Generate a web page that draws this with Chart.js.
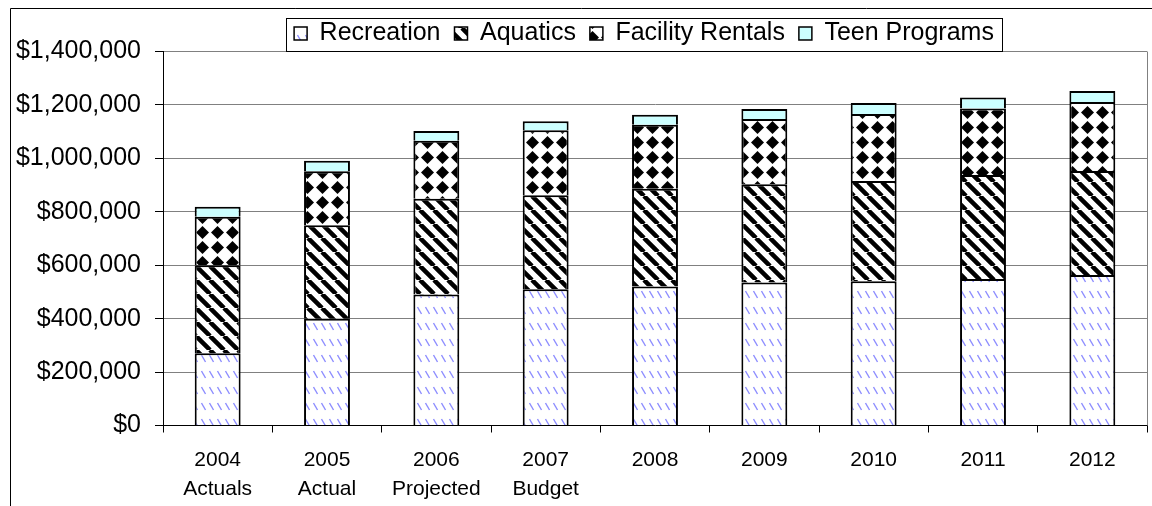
<!DOCTYPE html>
<html>
<head>
<meta charset="utf-8">
<script src="https://cdn.jsdelivr.net/npm/chart.js@4"></script>
<style>
  html, body { margin: 0; padding: 0; background: #fff; }
  #wrap { width: 1152px; height: 506px; }
</style>
</head>
<body>
<div id="wrap"><canvas id="chart" width="1152" height="506"></canvas></div>
<script>
const years = [
  ["2004", "Actuals"], ["2005", "Actual"], ["2006", "Projected"], ["2007", "Budget"],
  "2008", "2009", "2010", "2011", "2012"
];
const recreation = [270000, 400000, 490000, 510000, 520000, 535000, 540000, 548000, 563000];
const aquatics = [330000, 350000, 359000, 352000, 366000, 368000, 375000, 390000, 390000];
const facilityRentals = [181000, 202000, 217000, 243000, 240000, 244000, 251000, 249000, 258000];
const teenPrograms = [38000, 39000, 36000, 34000, 37000, 38000, 41000, 41000, 41000];

const yMax = 1400000;
const yStep = 200000;

function makePattern(w, h, draw) {
  const c = document.createElement("canvas");
  c.width = w; c.height = h;
  const g = c.getContext("2d");
  g.fillStyle = "#fff";
  g.fillRect(0, 0, w, h);
  draw(g, w, h);
  return g.createPattern(c, "repeat");
}

// light blue dashes
const recPattern = makePattern(8, 16, (g) => {
  g.strokeStyle = "#8c8cff";
  g.lineWidth = 1.4;
  g.beginPath();
  g.moveTo(1.5, 3);
  g.lineTo(5.5, 10);
  g.stroke();
});

// thick black "\" stripes
const aquaPattern = makePattern(14, 14, (g, w, h) => {
  g.strokeStyle = "#000";
  g.lineWidth = 4.5;
  g.beginPath();
  [-w, 0, w].forEach(off => {
    g.moveTo(off, 0);
    g.lineTo(off + w, h);
  });
  g.stroke();
});

// black diamonds
const facPattern = makePattern(15, 15, (g) => {
  g.fillStyle = "#000";
  g.beginPath();
  g.moveTo(7.5, 1);
  g.lineTo(14, 7.5);
  g.lineTo(7.5, 14);
  g.lineTo(1, 7.5);
  g.closePath();
  g.fill();
});

const frame = {
  id: "frame",
  afterLayout(chart) {
    // shift legend a little left like the original
    const lg = chart.legend;
    lg.left -= 11;
    lg.right -= 11;
  },
  beforeDatasetsDraw(chart) {
    const { ctx, chartArea: a } = chart;
    ctx.save();
    ctx.strokeStyle = "#808080";
    ctx.lineWidth = 1;
    ctx.beginPath();
    ctx.moveTo(Math.round(a.right) + 0.5, a.top);
    ctx.lineTo(Math.round(a.right) + 0.5, a.bottom);
    ctx.stroke();
    ctx.restore();
  },
  afterDraw(chart) {
    const { ctx, chartArea: a } = chart;
    ctx.save();
    ctx.strokeStyle = "#000";
    ctx.lineWidth = 1;
    // outer chart border (left and top)
    ctx.beginPath();
    ctx.moveTo(10.5, 506);
    ctx.lineTo(10.5, 8.5);
    ctx.lineTo(1152, 8.5);
    ctx.stroke();
    // legend frame
    const hb = chart.legend.legendHitBoxes;
    if (hb && hb.length) {
      const l = Math.min(...hb.map(b => b.left)) - 8;
      const r = Math.max(...hb.map(b => b.left + b.width)) + 8;
      const t = Math.round(a.top) - 34;
      ctx.strokeRect(Math.round(l) + 0.5, t + 0.5, Math.round(r - l), 33);
    }
    ctx.restore();
  }
};

const common = { borderColor: "#000", borderWidth: 2, stack: "s" };

new Chart(document.getElementById("chart"), {
  type: "bar",
  data: {
    labels: years,
    datasets: [
      { label: "Recreation", data: recreation, backgroundColor: recPattern, ...common },
      { label: "Aquatics", data: aquatics, backgroundColor: aquaPattern, ...common },
      { label: "Facility Rentals", data: facilityRentals, backgroundColor: facPattern, ...common },
      { label: "Teen Programs", data: teenPrograms, backgroundColor: "#ccffff", ...common }
    ]
  },
  options: {
    responsive: false,
    animation: false,
    devicePixelRatio: 1,
    layout: { padding: { left: 10, top: 7, right: 5, bottom: 0 } },
    datasets: { bar: { categoryPercentage: 1, barPercentage: 0.42 } },
    plugins: {
      tooltip: { enabled: false },
      legend: {
        position: "top",
        fullSize: false,
        maxHeight: 44.5,
        labels: {
          color: "#000",
          font: { family: "'Liberation Sans', Arial, sans-serif", size: 25 },
          boxWidth: 13,
          boxHeight: 13,
          padding: 14,
          generateLabels(chart) {
            return chart.data.datasets.map((ds, i) => ({
              text: ds.label,
              fillStyle: ds.backgroundColor,
              strokeStyle: "#000",
              lineWidth: 1.5,
              datasetIndex: i,
              hidden: false
            }));
          }
        }
      }
    },
    scales: {
      x: {
        stacked: true,
        afterFit(s) { s.height = 80.5; },
        grid: { display: true, drawOnChartArea: false, drawTicks: true, tickLength: 7, color: "#000", offset: true },
        border: { color: "#000", width: 1 },
        ticks: {
          color: "#000",
          padding: 13,
          maxRotation: 0,
          autoSkip: false,
          font: { family: "'Liberation Sans', Arial, sans-serif", size: 21, lineHeight: 1.4 }
        }
      },
      y: {
        stacked: true,
        min: 0,
        max: yMax,
        afterFit(s) { s.width = 153; },
        grid: { color: "#808080", tickColor: "#000", tickLength: 8 },
        border: { color: "#000", width: 1 },
        ticks: {
          stepSize: yStep,
          color: "#000",
          padding: 14,
          font: { family: "'Liberation Sans', Arial, sans-serif", size: 25 },
          callback: v => "$" + Number(v).toLocaleString("en-US")
        }
      }
    }
  },
  plugins: [frame]
});
</script>
</body>
</html>
